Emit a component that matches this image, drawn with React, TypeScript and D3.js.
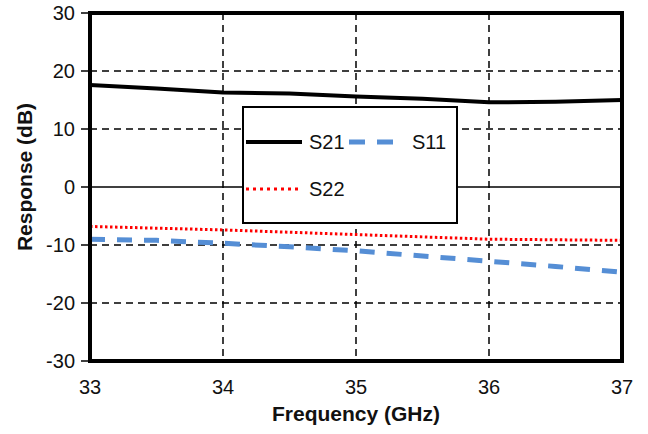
import React, { useEffect, useRef } from "react";
import * as d3 from "d3";

const freqs = [33, 33.5, 34, 34.5, 35, 35.5, 36, 36.5, 37];
const s21 = [17.6, 17.0, 16.3, 16.1, 15.6, 15.2, 14.6, 14.7, 15.0];
const s11 = [-9.0, -9.2, -9.7, -10.3, -11.0, -11.9, -12.8, -13.7, -14.7];
const s22 = [-6.8, -7.1, -7.4, -7.8, -8.2, -8.6, -9.0, -9.1, -9.2];
const xTicks = [33, 34, 35, 36, 37];
const yTicks = [-30, -20, -10, 0, 10, 20, 30];

const series = [
  { name: "S21", values: s21, color: "#000000", width: 4, dash: null },
  { name: "S11", values: s11, color: "#558ED5", width: 5, dash: "15,12" },
  { name: "S22", values: s22, color: "#FF0000", width: 3, dash: "2.5,2.5" }
];

const App = () => {
  const svgRef = useRef<SVGSVGElement>(null);

  useEffect(() => {
    const width = 648, height = 434;
    const margin = { top: 13, right: 26, bottom: 73, left: 90 };
    const svg = d3.select(svgRef.current);
    svg.selectAll("*").remove();
    const font = "'Liberation Sans', Arial, sans-serif";

    const x = d3.scaleLinear().domain([33, 37]).range([margin.left, width - margin.right]);
    const y = d3.scaleLinear().domain([-30, 30]).range([height - margin.bottom, margin.top]);

    svg.append("rect")
      .attr("width", width).attr("height", height).attr("fill", "#fff");

    // gridlines
    svg.selectAll(".hgrid")
      .data(yTicks.filter(t => t !== 30 && t !== -30))
      .join("line")
      .attr("x1", x(33)).attr("x2", x(37))
      .attr("y1", d => y(d)).attr("y2", d => y(d))
      .attr("stroke", "#000")
      .attr("stroke-width", 1.5)
      .attr("stroke-dasharray", d => (d === 0 ? null : "7,5"));
    svg.selectAll(".vgrid")
      .data(xTicks.slice(1, -1))
      .join("line")
      .attr("x1", d => x(d)).attr("x2", d => x(d))
      .attr("y1", y(30)).attr("y2", y(-30))
      .attr("stroke", "#000")
      .attr("stroke-width", 1.5)
      .attr("stroke-dasharray", "7,5");

    // y ticks + labels
    svg.selectAll(".ytick")
      .data(yTicks)
      .join("line")
      .attr("x1", margin.left - 9).attr("x2", margin.left)
      .attr("y1", d => y(d)).attr("y2", d => y(d))
      .attr("stroke", "#000").attr("stroke-width", 1.5);
    svg.selectAll(".ylab")
      .data(yTicks)
      .join("text")
      .attr("x", margin.left - 15)
      .attr("y", d => y(d))
      .attr("dy", "0.36em")
      .attr("text-anchor", "end")
      .attr("font-family", font)
      .attr("font-size", 20)
      .attr("fill", "#111")
      .text(d => d);
    svg.selectAll(".xlab")
      .data(xTicks)
      .join("text")
      .attr("x", d => x(d))
      .attr("y", height - margin.bottom + 33)
      .attr("text-anchor", "middle")
      .attr("font-family", font)
      .attr("font-size", 20)
      .attr("fill", "#111")
      .text(d => d);

    // lines
    const line = d3.line<number>()
      .x((d, i) => x(freqs[i]))
      .y(d => y(d));
    series.forEach(s => {
      svg.append("path")
        .attr("d", line(s.values))
        .attr("fill", "none")
        .attr("stroke", s.color)
        .attr("stroke-width", s.width)
        .attr("stroke-dasharray", s.dash)
        .attr("stroke-linejoin", "round");
    });

    // plot border
    svg.append("rect")
      .attr("x", x(33)).attr("y", y(30))
      .attr("width", x(37) - x(33)).attr("height", y(-30) - y(30))
      .attr("fill", "none")
      .attr("stroke", "#000")
      .attr("stroke-width", 4);

    // legend
    const lg = svg.append("g");
    lg.append("rect")
      .attr("x", 243).attr("y", 107)
      .attr("width", 214).attr("height", 116)
      .attr("fill", "#fff")
      .attr("stroke", "#000")
      .attr("stroke-width", 2);
    const legendPos = [
      { x: 246, y: 142, len: 56 },
      { x: 349, y: 142, len: 44 },
      { x: 246, y: 189, len: 52 }
    ];
    series.forEach((s, i) => {
      const p = legendPos[i];
      lg.append("line")
        .attr("x1", p.x).attr("x2", p.x + p.len)
        .attr("y1", p.y).attr("y2", p.y)
        .attr("stroke", s.color)
        .attr("stroke-width", s.width)
        .attr("stroke-dasharray", s.name === "S11" ? "16,12" : s.name === "S22" ? "3,4" : null);
      lg.append("text")
        .attr("x", s.name === "S11" ? 412 : 309)
        .attr("y", p.y)
        .attr("dy", "0.36em")
        .attr("font-family", font)
        .attr("font-size", 20)
        .attr("fill", "#111")
        .text(s.name);
    });

    // axis titles
    svg.append("text")
      .attr("x", (x(33) + x(37)) / 2)
      .attr("y", 421)
      .attr("text-anchor", "middle")
      .attr("font-family", font)
      .attr("font-size", 21)
      .attr("font-weight", "bold")
      .attr("fill", "#111")
      .text("Frequency (GHz)");
    svg.append("text")
      .attr("transform", `translate(32,${(y(30) + y(-30)) / 2 - 10}) rotate(-90)`)
      .attr("text-anchor", "middle")
      .attr("font-family", font)
      .attr("font-size", 21)
      .attr("font-weight", "bold")
      .attr("fill", "#111")
      .text("Response (dB)");
  }, []);

  return (
    <svg ref={svgRef} width={648} height={434}
      style={{ position: "absolute", left: 0, top: 0, display: "block" }} />
  );
};

export default App;
